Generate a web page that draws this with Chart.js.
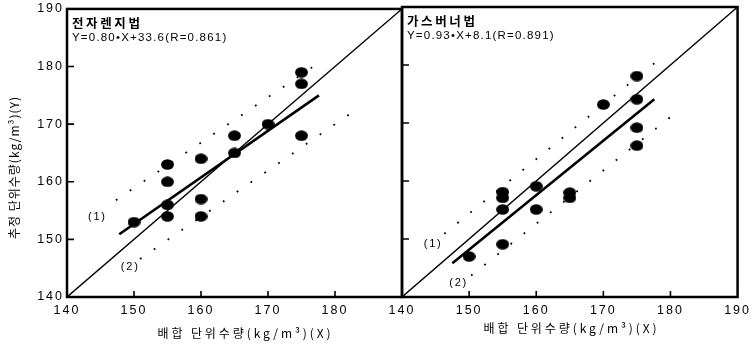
<!DOCTYPE html>
<html><head><meta charset="utf-8">
<script src="https://cdn.jsdelivr.net/npm/chart.js@4"></script>
<style>
html,body{margin:0;padding:0;background:#fff;width:754px;height:348px;overflow:hidden}
canvas{position:absolute;left:0;top:0}
</style></head>
<body>
<canvas id="c1" width="754" height="348"></canvas>
<canvas id="c2" width="754" height="348"></canvas>
<script>
// ---- axis ticks ----
const xTicks = [140,150,160,170,180,190];
const yTicks = [140,150,160,170,180,190];
const innerTicks = [150,160,170,180];

// ---- 전자렌지법 (left panel) ----
const microX = [150,155,155,155,155,160,160,160,165,165,170,175,175,175];
const microY = [153,163,160,156,154,164,157,154,168,165,170,179,177,168];
const microFitX = [147.8,177.6];
const microFitY = [150.9,175.0];
const microUpX = [147.3,176.9];
const microUpY = [156.8,180.1];
const microLoX = [150.9,182.5];
const microLoY = [146.6,172.0];
const microLabelX = [144.4,149.3];
const microLabelY = [153.9,145.2];

// ---- 가스버너법 (right panel) ----
const gasX = [150,155,155,155,155,160,160,165,165,170,175,175,175,175];
const gasY = [147,158.1,157.1,155.1,149.1,159.1,155.1,158,157.1,173.2,178.1,174.1,169.2,166.1];
const gasFitX = [147.5,177.6];
const gasFitY = [145.8,174.1];
const gasUpX = [146.3,177.6];
const gasUpY = [150.9,180.3];
const gasLoX = [150.3,181.6];
const gasLoY = [143.7,172.5];
const gasLabelX = [144.5,148.3];
const gasLabelY = [149.1,142.4];

const diagX = [140,190];
const diagY = [140,190];
const bandLabels = ['(1)','(2)'];

const microTitle = '전자렌지법';
const microEq = 'Y=0.80•X+33.6(R=0.861)';
const gasTitle = '가스버너법';
const gasEq = 'Y=0.93•X+8.1(R=0.891)';
const xTitle = '배합 단위수량(kg/m³)(X)';
const yTitle = '추정 단위수량(kg/m³)(Y)';

function pts(xs, ys){ return xs.map((x,i)=>({x:x, y:ys[i]})); }

// ellipse point marker
const dot = document.createElement('canvas');
dot.width = 13; dot.height = 11;
(function(){ const d = dot.getContext('2d'); d.fillStyle = '#000'; d.beginPath(); d.ellipse(6.5,5.5,6.4,5.3,0,0,Math.PI*2); d.fill(); })();

const KFONT = '"Noto Sans CJK KR", "Noto Sans", sans-serif';
const LFONT = '"Liberation Sans", Arial, sans-serif';

function spaced(ctx, text, x, y, spacing, align){
  ctx.letterSpacing = spacing + 'px';
  const w = ctx.measureText(text).width - spacing;
  let sx = x;
  if (align === 'center') sx = x - w/2;
  else if (align === 'right') sx = x - w;
  ctx.textAlign = 'left';
  ctx.fillText(text, sx, y);
}

const decor = {
  id: 'decor',
  beforeDraw(chart){ chart.ctx.letterSpacing = '2px'; },
  afterDraw(chart, args, o){
    const ctx = chart.ctx;
    const a = chart.chartArea;
    const xs = chart.scales.x, ys = chart.scales.y;
    ctx.save();
    ctx.strokeStyle = '#000';
    ctx.lineWidth = 2.5;
    ctx.strokeRect(a.left, a.top, a.right - a.left, a.bottom - a.top);
    ctx.lineWidth = 1.6;
    ctx.beginPath();
    innerTicks.forEach(v => {
      const px = xs.getPixelForValue(v);
      ctx.moveTo(px, a.bottom); ctx.lineTo(px, a.bottom - 6);
      const py = ys.getPixelForValue(v);
      ctx.moveTo(a.left, py); ctx.lineTo(a.left + 7, py);
    });
    ctx.stroke();

    ctx.fillStyle = '#000';
    ctx.textBaseline = 'middle';
    ctx.font = 'bold 12.5px ' + KFONT;
    spaced(ctx, o.title, a.left + 5, a.top + 14, 2.6, 'left');
    ctx.font = '11.5px ' + LFONT;
    spaced(ctx, o.eq, a.left + 5, a.top + 29, 1.2, 'left');

    ctx.font = '11px ' + LFONT;
    o.lx.forEach((lx,i) => {
      spaced(ctx, bandLabels[i], xs.getPixelForValue(lx), ys.getPixelForValue(o.ly[i]), 1.8, 'center');
    });

    ctx.font = '12px ' + KFONT;
    spaced(ctx, xTitle, o.xtx, o.xty, 2.9, 'center');
    if (o.ytitle){
      ctx.save();
      ctx.translate(14, 168);
      ctx.rotate(-Math.PI/2);
      ctx.font = '12px ' + KFONT;
      spaced(ctx, yTitle, 0, 0, 1.0, 'center');
      ctx.restore();
    }
    ctx.restore();
  }
};

function datasets(px, py, fx, fy, ux, uy, lx, ly){
  return [
    {type:'scatter', data: pts(px,py), pointStyle: dot, pointRadius: 6, pointHoverRadius: 6},
    {type:'line', data: pts(diagX,diagY), borderColor:'#000', borderWidth:1.4, pointRadius:0, fill:false},
    {type:'line', data: pts(fx,fy), borderColor:'#000', borderWidth:2.6, pointRadius:0, fill:false},
    {type:'line', data: pts(ux,uy), borderColor:'#000', borderWidth:1.8, borderDash:[1.8,15], pointRadius:0, fill:false},
    {type:'line', data: pts(lx,ly), borderColor:'#000', borderWidth:1.8, borderDash:[1.8,15], pointRadius:0, fill:false}
  ];
}

function scalesCfg(showY, hide190){
  return {
    x: {
      type:'linear', min:140, max:190,
      afterBuildTicks: s => { s.ticks = xTicks.map(v => ({value:v})); },
      afterFit: s => { s.height = 51; },
      grid: {display:true, drawOnChartArea:false, drawTicks:false},
      border: {display:false},
      ticks: {
        padding: 6, color:'#000', maxRotation:0, autoSkip:false,
        font: {family: LFONT, size: 12.5},
        callback: v => (hide190 && v === 190) ? '' : String(v)
      }
    },
    y: {
      type:'linear', min:140, max:190, display: showY,
      afterBuildTicks: s => { s.ticks = yTicks.map(v => ({value:v})); },
      afterFit: s => { s.width = 67; },
      grid: {display:true, drawOnChartArea:false, drawTicks:false},
      border: {display:false},
      ticks: {padding: 3, color:'#000', font: {family: LFONT, size: 12.5, lineHeight: 0.95}, callback: v => String(v)}
    }
  };
}

new Chart(document.getElementById('c1'), {
  type: 'scatter',
  data: {datasets: datasets(microX, microY, microFitX, microFitY, microUpX, microUpY, microLoX, microLoY)},
  options: {
    responsive:false, animation:false, devicePixelRatio:1,
    layout: {padding: {left:0, top:6, right:352, bottom:0}},
    plugins: {legend:{display:false}, tooltip:{enabled:false},
      decor: {title: microTitle, eq: microEq, lx: microLabelX, ly: microLabelY, xtx: 244, xty: 333, ytitle: true}},
    scales: scalesCfg(true, true)
  },
  plugins: [decor]
});

new Chart(document.getElementById('c2'), {
  type: 'scatter',
  data: {datasets: datasets(gasX, gasY, gasFitX, gasFitY, gasUpX, gasUpY, gasLoX, gasLoY)},
  options: {
    responsive:false, animation:false, devicePixelRatio:1,
    layout: {padding: {left:335, top:6, right:15, bottom:0}},
    plugins: {legend:{display:false}, tooltip:{enabled:false},
      decor: {title: gasTitle, eq: gasEq, lx: gasLabelX, ly: gasLabelY, xtx: 570, xty: 328, ytitle: false}},
    scales: scalesCfg(false, false)
  },
  plugins: [decor]
});
</script>
</body></html>
